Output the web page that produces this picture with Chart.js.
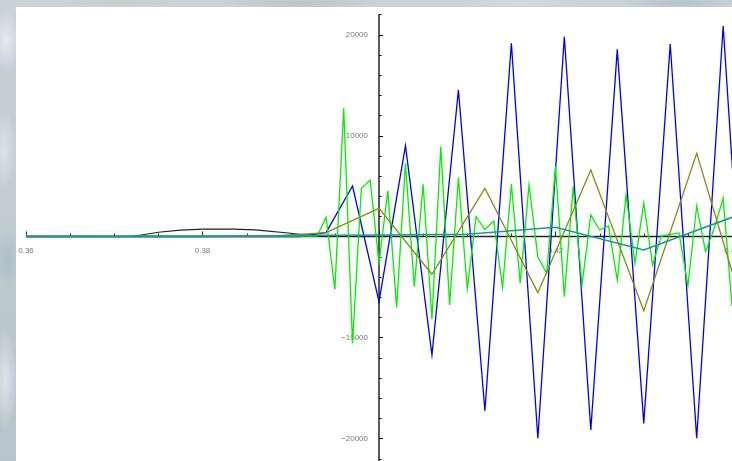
<!DOCTYPE html>
<html>
<head>
<meta charset="utf-8">
<script src="https://cdn.jsdelivr.net/npm/chart.js@4"></script>
<style>
  html, body { margin: 0; padding: 0; }
  body {
    width: 732px; height: 461px; overflow: hidden;
    background-color: #bfcbd3;
    background-image:
      radial-gradient(ellipse 14px 30px at 6px 40px, rgba(235,240,242,0.85), transparent),
      radial-gradient(ellipse 12px 40px at 4px 150px, rgba(225,232,236,0.8), transparent),
      radial-gradient(ellipse 14px 30px at 8px 260px, rgba(170,185,195,0.8), transparent),
      radial-gradient(ellipse 12px 50px at 5px 380px, rgba(230,236,238,0.8), transparent),
      radial-gradient(ellipse 60px 6px at 120px 3px, rgba(200,205,200,0.9), transparent),
      radial-gradient(ellipse 80px 6px at 300px 3px, rgba(185,195,190,0.9), transparent),
      radial-gradient(ellipse 70px 6px at 520px 3px, rgba(215,222,225,0.9), transparent),
      radial-gradient(ellipse 60px 6px at 680px 3px, rgba(175,190,200,0.9), transparent),
      linear-gradient(180deg, #c8d2d8, #b7c4cd);
  }
  canvas { display: block; }
</style>
</head>
<body>
<canvas id="c" width="732" height="461"></canvas>
<script>
// Sampled curves (x, y)
const blackX = [0.36, 0.372, 0.375, 0.3775, 0.38, 0.3835, 0.386, 0.39, 0.3925, 0.395, 0.44];
const blackY = [0, 0, 420, 640, 740, 740, 650, 320, 60, 0, 0];

const tealX = [0.36, 0.37, 0.38, 0.39, 0.40, 0.41, 0.42, 0.43, 0.44];
const tealY = [0, 0, 0, 100, 150, 220, 910, -1340, 1900];

const oliveX = [0.36, 0.388, 0.394, 0.400, 0.406, 0.412, 0.418, 0.424, 0.430, 0.436, 0.442];
const oliveY = [0, 30, 380, 2790, -3740, 4770, -5560, 6580, -7350, 8240, -9300];

const blueX = [0.36, 0.391, 0.394, 0.397, 0.400, 0.403, 0.406, 0.409, 0.412, 0.415, 0.418,
               0.421, 0.424, 0.427, 0.430, 0.433, 0.436, 0.439, 0.442];
const blueY = [0, 0, 380, 5000, -6450, 8990, -11730, 14500, -17250, 19130, -19980,
               19780, -19160, 18530, -18500, 19060, -19980, 20840, -19500];

const greenX = [0.36, 0.393, 0.394, 0.395, 0.396, 0.397, 0.398, 0.399, 0.400, 0.401, 0.402,
                0.403, 0.404, 0.405, 0.406, 0.407, 0.408, 0.409, 0.410, 0.411, 0.412,
                0.413, 0.414, 0.415, 0.416, 0.417, 0.418, 0.419, 0.420, 0.421, 0.422,
                0.423, 0.424, 0.425, 0.426, 0.427, 0.428, 0.429, 0.430, 0.431, 0.432,
                0.433, 0.434, 0.435, 0.436, 0.437, 0.438, 0.439, 0.440];
const greenY = [0, 50, 1900, -5240, 12690, -10570, 4770, 5590, -2650, 4530, -7030,
                7250, -4970, 5180, -8200, 8890, -6780, 5820, -5150, 1960, 690,
                1530, -5050, 5180, -4630, 5100, -2000, -3640, 6950, -5960, 4930,
                -4800, 2130, 640, 1040, -4310, 4110, -2650, 3320, -2820, 50,
                220, 350, -4900, 3020, -1500, 840, 3780, -6880];

// Axis annotations
const xTickLabels = ['0.36', '0.38', '0.42', '0.44'];
const xTickValues = [0.36, 0.38, 0.42, 0.44];
const yTickLabels = ['20000', '10000', '\u221210000', '\u221220000'];
const yTickValues = [20000, 10000, -10000, -20000];
const yAxisAt = 0.40;

const pts = (xs, ys) => xs.map((x, i) => ({ x, y: ys[i] }));

const crossedAxes = {
  id: 'crossedAxes',
  beforeDraw(chart) {
    const { ctx, chartArea: a } = chart;
    ctx.save();
    ctx.fillStyle = '#ffffff';
    ctx.fillRect(a.left, a.top, a.right - a.left, a.bottom - a.top);
    ctx.restore();
  },
  beforeDatasetsDraw(chart) {
    const { ctx, chartArea: a, scales: { x, y } } = chart;
    const y0 = y.getPixelForValue(0);
    const ax = x.getPixelForValue(yAxisAt);
    ctx.save();

    // tick labels (under the curves)
    ctx.font = '8px "Liberation Sans", "DejaVu Sans", sans-serif';
    ctx.fillStyle = '#7a7a7a';
    ctx.textAlign = 'center';
    ctx.textBaseline = 'middle';
    xTickValues.forEach((v, i) => ctx.fillText(xTickLabels[i], x.getPixelForValue(v), y0 + 14));
    ctx.textAlign = 'right';
    yTickValues.forEach((v, i) => ctx.fillText(yTickLabels[i], ax - 11, y.getPixelForValue(v)));

    // horizontal axis
    ctx.strokeStyle = '#2a2a2a';
    ctx.lineWidth = 1.6;
    ctx.beginPath();
    ctx.moveTo(x.getPixelForValue(0.36), y0);
    ctx.lineTo(a.right, y0);
    ctx.stroke();
    ctx.lineWidth = 1;
    for (let k = 0; k <= 16; k++) {
      const v = 0.36 + k * 0.005;
      const px = Math.round(x.getPixelForValue(v)) + 0.5;
      const len = (k % 4 === 0) ? 5 : 3;
      ctx.beginPath();
      ctx.moveTo(px, y0);
      ctx.lineTo(px, y0 - len);
      ctx.stroke();
    }

    // vertical axis
    ctx.strokeStyle = '#000000';
    ctx.lineWidth = 1.3;
    ctx.beginPath();
    ctx.moveTo(ax, y.getPixelForValue(22000));
    ctx.lineTo(ax, a.bottom);
    ctx.stroke();
    ctx.lineWidth = 1;
    for (let v = -22000; v <= 22000; v += 2000) {
      const py = Math.round(y.getPixelForValue(v)) + 0.5;
      const len = (v % 10000 === 0) ? 4 : 2.5;
      ctx.beginPath();
      ctx.moveTo(ax, py);
      ctx.lineTo(ax + len, py);
      ctx.stroke();
    }
    ctx.restore();
  }
};

const line = (data, color, w) => ({
  data, borderColor: color, borderWidth: w, showLine: true,
  pointRadius: 0, tension: 0, fill: false
});

new Chart(document.getElementById('c'), {
  type: 'scatter',
  data: {
    datasets: [
      line(pts(tealX, tealY), '#1a9894', 1.6),
      line(pts(oliveX, oliveY), '#8a8a14', 1.3),
      line(pts(greenX, greenY), '#00f000', 1.3),
      line(pts(blueX, blueY), '#0000f0', 1.3),
      line(pts(blackX, blackY), '#222222', 1.2)
    ]
  },
  options: {
    responsive: false,
    animation: false,
    events: [],
    layout: { padding: { left: 16, top: 7, right: 0, bottom: 0 } },
    plugins: { legend: { display: false }, tooltip: { enabled: false } },
    scales: {
      x: { type: 'linear', display: false, min: 0.358867, max: 0.44 },
      y: { type: 'linear', display: false, min: -22228, max: 22723 }
    }
  },
  plugins: [crossedAxes]
});
</script>
</body>
</html>
